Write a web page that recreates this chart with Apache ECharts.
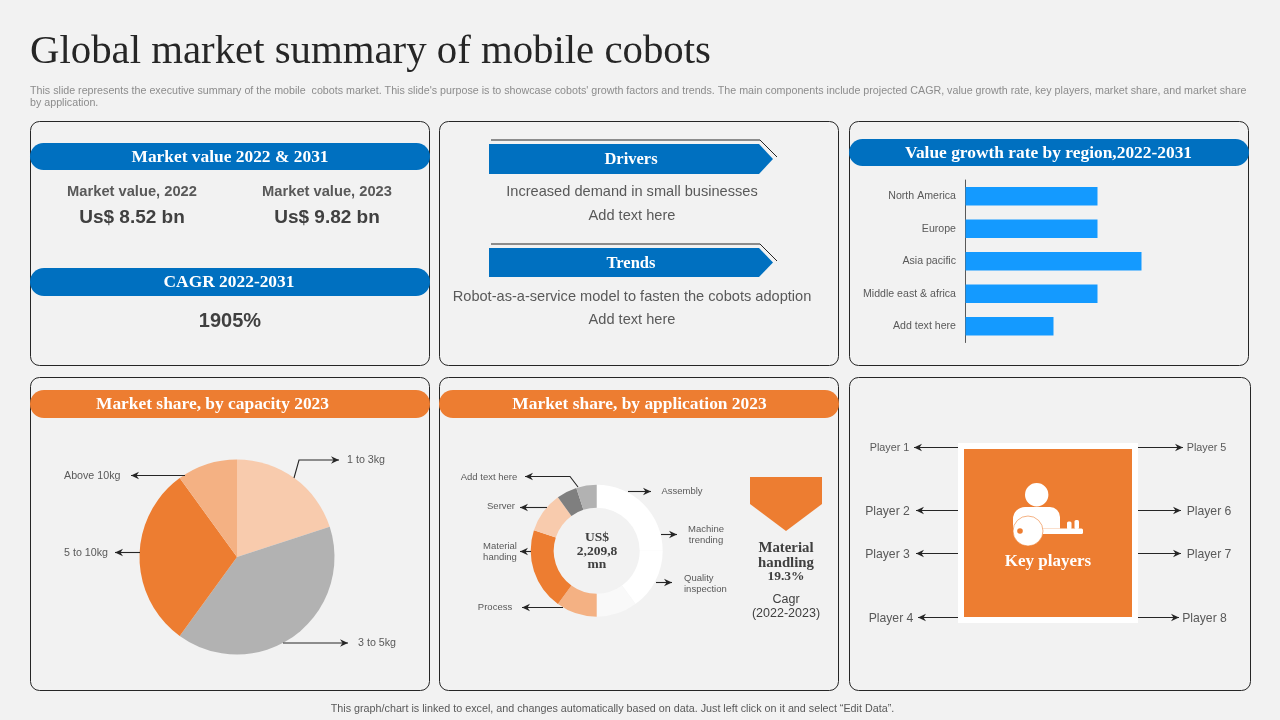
<!DOCTYPE html>
<html>
<head>
    <meta charset="utf-8">
    <title>Global market summary of mobile cobots</title>
    <style>
        html, body { margin: 0; padding: 0; background: #f2f2f2; }
        #main { width: 1280px; height: 720px; }
    </style>
</head>
<body>
    <div id="main"></div>
    <script src="https://cdn.jsdelivr.net/npm/echarts@6/dist/echarts.min.js"></script>
    <script type="text/javascript">

// chart data
var regionNames = ['North America', 'Europe', 'Asia pacific', 'Middle east & africa', 'Add text here'];
var regionGrowth = [3, 3, 4, 3, 2];

var capacityNames = ['1 to 3kg', '3 to 5kg', '5 to 10kg', 'Above 10kg'];
var capacityShare = [20, 40, 30, 10];
var capacityColors = ['#F8CBAD', '#B2B2B2', '#ED7D31', '#F4B183'];

var applicationNames = ['Assembly', 'Machine trending', 'Quality inspection', 'Process', 'Material handing', 'Server', 'Other', 'Add text here'];
var applicationShare = [25, 15, 10, 10, 20, 10, 5, 5];
var applicationColors = ['#FFFFFF', '#FFFFFF', '#F9F9F9', '#F4B183', '#ED7D31', '#F8CBAD', '#7F7F7F', '#B2B2B2'];

var playerNames = ['Player 1', 'Player 2', 'Player 3', 'Player 4', 'Player 5', 'Player 6', 'Player 7', 'Player 8'];

var SANS = '"Liberation Sans", Arial, sans-serif';
var SERIF = '"Liberation Serif", Georgia, serif';
var BLUE = '#0070C0';
var ORANGE = '#ED7D31';
var GREY = '#595959';
var LINE = '#262626';

var g = [];

function text(str, x, y, size, color, opts) {
    opts = opts || {};
    g.push({
        type: 'text', x: x, y: y + 1, z: 5, silent: true,
        style: {
            text: str, fill: color,
            font: (opts.bold ? 'bold ' : '') + size + 'px ' + (opts.serif ? SERIF : SANS),
            textAlign: opts.align || 'center', textVerticalAlign: 'middle'
        }
    });
}

function panel(x0, y0, x1, y1) {
    g.push({
        type: 'rect', z: 1, silent: true,
        shape: { x: x0, y: y0, width: x1 - x0, height: y1 - y0, r: 9 },
        style: { fill: 'none', stroke: '#262626', lineWidth: 1 }
    });
}

function pill(x0, y0, x1, y1, color, label, cx) {
    g.push({
        type: 'rect', z: 2, silent: true,
        shape: { x: x0, y: y0, width: x1 - x0, height: y1 - y0, r: (y1 - y0) / 2 },
        style: { fill: color }
    });
    text(label, cx, (y0 + y1) / 2, 17.4, '#FFFFFF', { bold: true, serif: true });
}

// polyline that ends in a small stealth arrow head
function arrow(pts) {
    var a = pts[pts.length - 2], b = pts[pts.length - 1];
    var t = Math.atan2(b[1] - a[1], b[0] - a[0]);
    var c = Math.cos(t), s = Math.sin(t);
    g.push({
        type: 'polyline', z: 3, silent: true,
        shape: { points: pts },
        style: { fill: 'none', stroke: LINE, lineWidth: 1.1 }
    });
    g.push({
        type: 'polygon', z: 3, silent: true,
        shape: {
            points: [
                [b[0], b[1]],
                [b[0] - 8 * c + 3.8 * s, b[1] - 8 * s - 3.8 * c],
                [b[0] - 5.5 * c, b[1] - 5.5 * s],
                [b[0] - 8 * c - 3.8 * s, b[1] - 8 * s + 3.8 * c]
            ]
        },
        style: { fill: LINE }
    });
}

function banner(y0, y1, label) {
    var mid = (y0 + y1) / 2;
    g.push({
        type: 'polyline', z: 2, silent: true,
        shape: { points: [[491, y0 - 4], [760, y0 - 4], [777, y0 + 13]] },
        style: { fill: 'none', stroke: LINE, lineWidth: 1 }
    });
    g.push({
        type: 'polygon', z: 3, silent: true,
        shape: { points: [[489, y0], [759, y0], [773, mid], [759, y1], [489, y1]] },
        style: { fill: BLUE }
    });
    text(label, 631, mid, 16.5, '#FFFFFF', { bold: true, serif: true });
}

// header
text('Global market summary of mobile cobots', 30, 51, 40.8, '#262626', { serif: true, align: 'left' });
text("This slide represents the executive summary of the mobile  cobots market. This slide's purpose is to showcase cobots' growth factors and trends. The main components include projected CAGR, value growth rate, key players, market share, and market share", 30, 90, 10.7, '#8C8C8C', { align: 'left' });
text('by application.', 30, 102, 10.7, '#8C8C8C', { align: 'left' });

panel(30.5, 121.5, 429.5, 365.5);
panel(439.5, 121.5, 838.5, 365.5);
panel(849.5, 121.5, 1248.5, 365.5);
panel(30.5, 377.5, 429.5, 690.5);
panel(439.5, 377.5, 838.5, 690.5);
panel(849.5, 377.5, 1250.5, 690.5);

// market value panel
pill(30, 143, 430, 170, BLUE, 'Market value 2022 & 2031', 230);
text('Market value, 2022', 132, 191, 14.7, GREY, { bold: true });
text('Market value, 2023', 327, 191, 14.7, GREY, { bold: true });
text('Us$ 8.52 bn', 132, 217, 19, '#404040', { bold: true });
text('Us$ 9.82 bn', 327, 217, 19, '#404040', { bold: true });
pill(30, 268, 430, 296, BLUE, 'CAGR 2022-2031', 229);
text('1905%', 230, 320, 20, '#404040', { bold: true });

// drivers and trends
banner(144, 174, 'Drivers');
text('Increased demand in small businesses', 632, 191, 14.6, GREY);
text('Add text here', 632, 215, 14.6, GREY);
banner(248, 277, 'Trends');
text('Robot-as-a-service model to fasten the cobots adoption', 632, 296, 14.6, GREY);
text('Add text here', 632, 319, 14.6, GREY);

pill(849, 139, 1249, 166, BLUE, 'Value growth rate by region,2022-2031', 1048.5);
pill(30, 390, 430, 418, ORANGE, 'Market share, by capacity 2023', 212.5);
pill(439, 390, 839, 418, ORANGE, 'Market share, by application 2023', 639.5);

// capacity pie labels
text(capacityNames[0], 347, 459, 10.7, GREY, { align: 'left' });
arrow([[294, 478], [299, 460], [339, 460]]);
text(capacityNames[1], 358, 642, 10.7, GREY, { align: 'left' });
arrow([[283, 643], [348, 643]]);
text(capacityNames[2], 64, 552, 10.7, GREY, { align: 'left' });
arrow([[140, 552.5], [115, 552.5]]);
text(capacityNames[3], 64, 475, 10.7, GREY, { align: 'left' });
arrow([[185, 475.5], [131, 475.5]]);

// application donut labels
text(applicationNames[7], 489, 476, 9.5, GREY);
arrow([[578, 487], [570, 476.5], [525, 476.5]]);
text(applicationNames[5], 501, 505.5, 9.5, GREY);
arrow([[547, 507.5], [520, 507.5]]);
text('Material', 500, 545.5, 9.5, GREY);
text('handing', 500, 556.5, 9.5, GREY);
arrow([[531, 551.5], [520, 551.5]]);
text(applicationNames[3], 495, 606.5, 9.5, GREY);
arrow([[563, 607.5], [522, 607.5]]);
text(applicationNames[0], 682, 490.5, 9.5, GREY);
arrow([[628, 491.5], [651, 491.5]]);
text('Machine', 706, 528.5, 9.5, GREY);
text('trending', 706, 539.5, 9.5, GREY);
arrow([[661, 534.5], [677, 534.5]]);
text('Quality', 684, 577.5, 9.5, GREY, { align: 'left' });
text('inspection', 684, 588.5, 9.5, GREY, { align: 'left' });
arrow([[656, 582.5], [672, 582.5]]);

text('US$', 597, 537, 13.5, '#404040', { bold: true, serif: true });
text('2,209,8', 597, 550.5, 13.5, '#404040', { bold: true, serif: true });
text('mn', 597, 563.5, 13.5, '#404040', { bold: true, serif: true });

g.push({
    type: 'polygon', z: 3, silent: true,
    shape: { points: [[750, 477], [822, 477], [822, 504], [786, 531], [750, 504]] },
    style: { fill: ORANGE }
});
text('Material', 786, 547.5, 14.8, '#404040', { bold: true, serif: true });
text('handling', 786, 562, 14.8, '#404040', { bold: true, serif: true });
text('19.3%', 786, 576, 13.5, '#404040', { bold: true, serif: true });
text('Cagr', 786, 599, 12.5, '#404040');
text('(2022-2023)', 786, 613, 12.5, '#404040');

// key players
g.push({
    type: 'rect', z: 2, silent: true,
    shape: { x: 961, y: 446, width: 174, height: 174 },
    style: { fill: ORANGE, stroke: '#FFFFFF', lineWidth: 6 }
});
g.push({ type: 'circle', z: 3, silent: true, shape: { cx: 1036.7, cy: 494.7, r: 11.7 }, style: { fill: '#FFFFFF' } });
g.push({ type: 'rect', z: 3, silent: true, shape: { x: 1013, y: 507, width: 47, height: 21.5, r: [12, 10, 0, 0] }, style: { fill: '#FFFFFF' } });
g.push({ type: 'rect', z: 4, silent: true, shape: { x: 1040, y: 528.5, width: 43, height: 5.5, r: 1.5 }, style: { fill: '#FFFFFF' } });
g.push({ type: 'rect', z: 4, silent: true, shape: { x: 1067, y: 521.5, width: 4.5, height: 8, r: 1.5 }, style: { fill: '#FFFFFF' } });
g.push({ type: 'rect', z: 4, silent: true, shape: { x: 1074.5, y: 520, width: 4.5, height: 9, r: 1.5 }, style: { fill: '#FFFFFF' } });
g.push({ type: 'circle', z: 4, silent: true, shape: { cx: 1028, cy: 531, r: 15 }, style: { fill: '#FFFFFF', stroke: ORANGE, lineWidth: 0.6 } });
g.push({ type: 'circle', z: 5, silent: true, shape: { cx: 1020, cy: 531, r: 2.8 }, style: { fill: ORANGE } });
text('Key players', 1048, 561, 17, '#FFFFFF', { bold: true, serif: true });

text(playerNames[0], 889.5, 447, 10.8, GREY);
arrow([[958, 447.5], [914, 447.5]]);
text(playerNames[1], 887.5, 510.5, 12.2, GREY);
arrow([[958, 510.5], [916, 510.5]]);
text(playerNames[2], 887.5, 553.5, 12.2, GREY);
arrow([[958, 553.5], [916, 553.5]]);
text(playerNames[3], 891, 617.5, 12.2, GREY);
arrow([[958, 617.5], [918, 617.5]]);
text(playerNames[4], 1206.5, 447, 10.8, GREY);
arrow([[1138, 447.5], [1183, 447.5]]);
text(playerNames[5], 1209, 510.5, 12.2, GREY);
arrow([[1138, 510.5], [1181, 510.5]]);
text(playerNames[6], 1209, 553.5, 12.2, GREY);
arrow([[1138, 553.5], [1181, 553.5]]);
text(playerNames[7], 1204.5, 617.5, 12.2, GREY);
arrow([[1138, 617.5], [1179, 617.5]]);

// footer
text('This graph/chart is linked to excel, and changes automatically based on data. Just left click on it and select \u201CEdit Data\u201D.', 612.5, 708, 10.75, GREY);

function sliceData(names, values, colors) {
    return values.map(function (v, i) {
        return { name: names[i], value: v, itemStyle: { color: colors[i] } };
    });
}

var myChart = echarts.init(document.getElementById('main'));

myChart.setOption({
    animation: false,
    backgroundColor: '#F2F2F2',
    tooltip: { show: false },
    grid: { left: 965.5, top: 180, width: 220, height: 162.5 },
    xAxis: { type: 'value', min: 0, max: 5, show: false },
    yAxis: {
        type: 'category',
        inverse: true,
        data: regionNames,
        axisTick: { show: false },
        axisLine: { lineStyle: { color: '#595959', width: 1 } },
        axisLabel: { color: GREY, fontFamily: SANS, fontSize: 10.6, margin: 9.5, padding: [3, 0, 0, 0] }
    },
    graphic: g,
    series: [
        {
            type: 'bar',
            data: regionGrowth,
            barWidth: 18.5,
            itemStyle: { color: '#149AFF' },
            silent: true
        },
        {
            type: 'pie',
            center: [237, 557],
            radius: 97.5,
            startAngle: 90,
            label: { show: false },
            labelLine: { show: false },
            silent: true,
            data: sliceData(capacityNames, capacityShare, capacityColors)
        },
        {
            type: 'pie',
            center: [596.7, 550.7],
            radius: [43, 66],
            startAngle: 90,
            label: { show: false },
            labelLine: { show: false },
            silent: true,
            data: sliceData(applicationNames, applicationShare, applicationColors)
        }
    ]
});

    </script>
</body>
</html>
